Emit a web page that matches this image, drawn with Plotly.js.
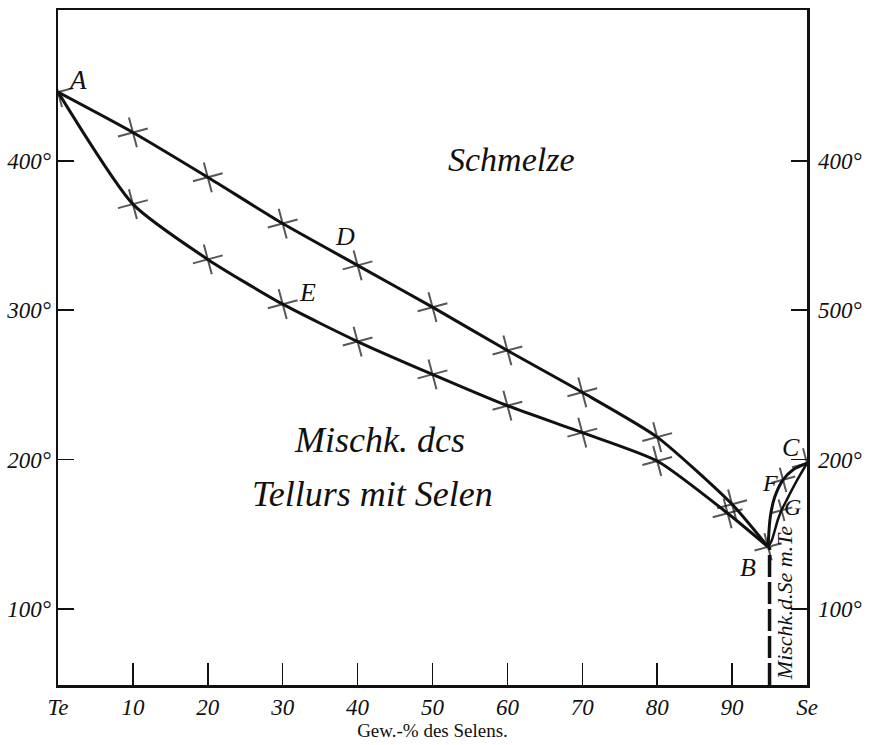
<!DOCTYPE html>
<html>
<head>
<meta charset="utf-8">
<script src="https://cdn.plot.ly/plotly-3.0.1.min.js"></script>
<style>html,body{margin:0;padding:0;background:#fff;}#chart{width:875px;height:745px;}</style>
</head>
<body>
<div id="chart"></div>
<script>
// Te-side liquidus (A - D - B), weight-% Se vs temperature
const liqTeX = [0, 10, 20, 30, 40, 50, 60, 70, 80, 90, 94.8];
const liqTeT = [446, 419, 389, 358, 330, 302, 273, 245, 215, 170, 141.5];
// Te-side solidus (A - E - B)
const solTeX = [0, 10, 20, 30, 40, 50, 60, 70, 80, 89.4, 94.8];
const solTeT = [446, 371, 334, 304, 279, 257, 236, 218, 199, 164, 141.5];
// Se-side liquidus (B - F - C)
const liqSeX = [94.8, 95.1, 95.7, 96.8, 98.1, 100];
const liqSeT = [141.5, 161.6, 175, 186.4, 193, 197.5];
// Se-side solidus (B - G - C)
const solSeX = [94.8, 95.3, 96.1, 96.6, 97.3, 98.7, 100];
const solSeT = [141.5, 146, 159.5, 166, 173, 186.3, 197.5];
// boundary of Se mixed crystals below B
const boundX = [95, 95];
const boundT = [49, 141.5];

const xTickVals = [0, 10, 20, 30, 40, 50, 60, 70, 80, 90, 100];
const xTickText = ['Te', '10', '20', '30', '40', '50', '60', '70', '80', '90', 'Se'];
const yTickVals = [100, 200, 300, 400];
const yLeftText = ['100°', '200°', '300°', '400°'];
const yRightText = ['100°', '200°', '500°', '400°'];

const ink = '#111';
const italic = {family: 'Liberation Serif, serif', style: 'italic', color: ink};
const mk = (size) => ({symbol: 'cross-thin', size: size, angle: -15, color: ink, line: {color: ink, width: 2}});

const traces = [
  {x: liqTeX, y: liqTeT, mode: 'lines+markers', line: {color: ink, width: 3, shape: 'spline', smoothing: 0.6},
   marker: mk([22, 22, 22, 22, 22, 22, 22, 22, 22, 22, 0]), hoverinfo: 'skip', showlegend: false},
  {x: solTeX, y: solTeT, mode: 'lines+markers', line: {color: ink, width: 3, shape: 'spline', smoothing: 0.6},
   marker: mk([0, 22, 22, 22, 22, 22, 22, 22, 22, 22, 20]), hoverinfo: 'skip', showlegend: false},
  {x: liqSeX, y: liqSeT, mode: 'lines+markers', line: {color: ink, width: 3, shape: 'spline', smoothing: 0.8},
   marker: mk([0, 0, 0, 18, 0, 22]), hoverinfo: 'skip', showlegend: false},
  {x: solSeX, y: solSeT, mode: 'lines+markers', line: {color: ink, width: 2.5, shape: 'spline', smoothing: 0.8},
   marker: mk([0, 0, 0, 16, 0, 0, 0]), hoverinfo: 'skip', showlegend: false},
  {x: boundX, y: boundT, mode: 'lines', line: {color: ink, width: 3.5, dash: '22px,5px'}, hoverinfo: 'skip', showlegend: false},
  {x: [0], y: [100], yaxis: 'y2', mode: 'markers', marker: {opacity: 0}, hoverinfo: 'skip', showlegend: false}
];

const ann = (x, y, text, size, extra) => Object.assign({x: x, y: y, xref: 'x', yref: 'y', text: text, showarrow: false,
  font: Object.assign({}, italic, {size: size})}, extra || {});

const layout = {
  width: 875, height: 745,
  margin: {l: 58, r: 68, t: 10, b: 60},
  paper_bgcolor: '#fff', plot_bgcolor: '#fff',
  xaxis: {range: [0, 100], tickmode: 'array', tickvals: xTickVals, ticktext: xTickText,
    ticks: 'inside', ticklen: 22, tickwidth: 1.5, tickcolor: ink,
    showline: true, linecolor: ink, linewidth: 2.5, mirror: true, showgrid: false, zeroline: false,
    tickfont: Object.assign({}, italic, {size: 23}),
    title: {text: 'Gew.-% des Selens.', font: {family: 'Liberation Serif, serif', size: 19, color: ink}, standoff: 2}},
  yaxis: {range: [49, 501], tickmode: 'array', tickvals: yTickVals, ticktext: yLeftText,
    ticks: 'inside', ticklen: 16, tickwidth: 1.5, tickcolor: ink,
    showline: true, linecolor: ink, linewidth: 2.5, mirror: true, showgrid: false, zeroline: false,
    tickfont: Object.assign({}, italic, {size: 23})},
  yaxis2: {range: [49, 501], overlaying: 'y', side: 'right', tickmode: 'array', tickvals: yTickVals, ticktext: yRightText,
    ticks: 'inside', ticklen: 16, tickwidth: 1.5, tickcolor: ink, ticklabelstandoff: 10,
    showline: false, showgrid: false, zeroline: false,
    tickfont: Object.assign({}, italic, {size: 23})},
  annotations: [
    ann(2.6, 454, 'A', 27),
    ann(60.5, 401, 'Schmelze', 34),
    ann(38.3, 349, 'D', 26),
    ann(33.3, 312, 'E', 26),
    ann(42.9, 213, 'Mischk. dcs', 36),
    ann(42.0, 177, 'Tellurs mit Selen', 36),
    ann(92.1, 128, 'B', 26),
    ann(97.8, 208, 'C', 26),
    ann(95.1, 184, 'F', 24),
    ann(98.1, 168, 'G', 24),
    ann(97.1, 104, 'Mischk.d.Se m.Te', 22, {textangle: -90})
  ]
};

Plotly.newPlot('chart', traces, layout, {staticPlot: true, displayModeBar: false});
</script>
</body>
</html>
